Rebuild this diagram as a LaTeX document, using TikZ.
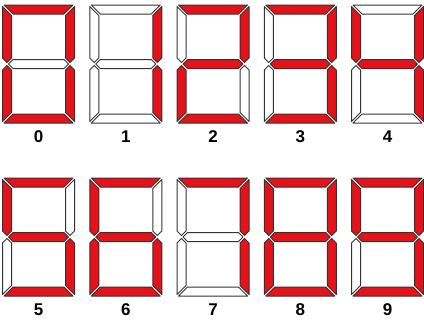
\documentclass[tikz,border=0pt]{standalone}
\usepackage{fontspec}
\setmainfont{Liberation Sans}
\usepackage{tikz}
\definecolor{cLit}{HTML}{E5121A}
\definecolor{cEdge}{HTML}{333333}
\tikzset{
  seg0/.style ={draw=cEdge,fill=white,line width=1pt,line join=round},
  seg1/.style ={seg0,fill=cLit},
  numlbl/.style={font=\fontsize{17}{17}\selectfont\bfseries,inner sep=0pt},
}

\begin{document}
\begin{tikzpicture}[x=1pt,y=-1pt]
\useasboundingbox (0,0) rectangle (424,322);

% ---------------- digits 0--9, segments a b c d e f g ----------------
\foreach \n/\col/\row/\sa/\sb/\sc/\sd/\se/\sf/\sg in {%
  0/0/0/1/1/1/1/1/1/0, 1/1/0/0/1/1/0/0/0/0, 2/2/0/1/1/0/1/1/0/1,
  3/3/0/1/1/1/1/0/0/1, 4/4/0/0/1/1/0/0/1/1, 5/0/1/1/0/1/1/0/1/1,
  6/1/1/1/0/1/1/1/1/1, 7/2/1/1/1/1/0/0/0/0, 8/3/1/1/1/1/1/1/1/1,
  9/4/1/1/1/1/1/0/1/1}
{
  \begin{scope}[shift={(2.5+87.25*\col,5+173*\row)}]
    \draw[seg\sa] (1.5,0) -- (70.5,0) -- (61.5,9) -- (10.5,9) -- cycle;
    \draw[seg\sb] (72,1.5) -- (72,53) -- (67.5,57.5) -- (63,53) -- (63,10.5) -- cycle;
    \draw[seg\sc] (72,65) -- (72,116.5) -- (63,107.5) -- (63,65) -- (67.5,60.5) -- cycle;
    \draw[seg\sd] (1.5,118) -- (70.5,118) -- (61.5,109) -- (10.5,109) -- cycle;
    \draw[seg\se] (0,65) -- (4.5,60.5) -- (9,65) -- (9,107.5) -- (0,116.5) -- cycle;
    \draw[seg\sf] (0,1.5) -- (9,10.5) -- (9,53) -- (4.5,57.5) -- (0,53) -- cycle;
    \draw[seg\sg] (6,59) -- (10.5,54.5) -- (61.5,54.5) -- (66,59) -- (61.5,63.5) -- (10.5,63.5) -- cycle;
    \node[numlbl] (lbl\n) at (36,131.5) {\n};
  \end{scope}
}
\end{tikzpicture}
\end{document}
